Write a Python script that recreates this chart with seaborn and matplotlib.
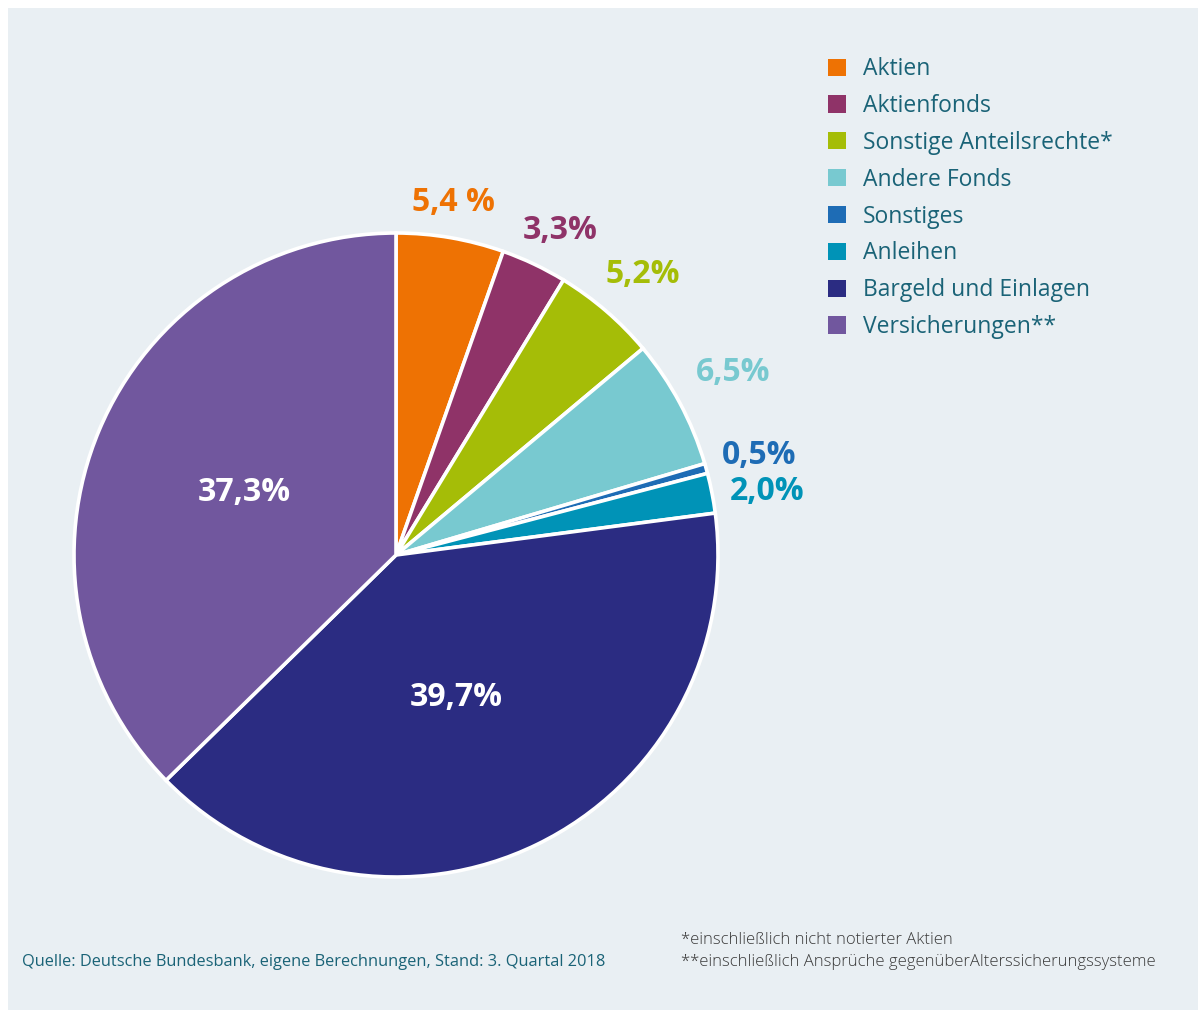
import matplotlib
matplotlib.use("Agg")
import matplotlib.pyplot as plt
import matplotlib.patches as mpatches
import seaborn as sns
import numpy as np

# data
categories = ["Aktien", "Aktienfonds", "Sonstige Anteilsrechte*", "Andere Fonds",
              "Sonstiges", "Anleihen", "Bargeld und Einlagen", "Versicherungen**"]
shares = [5.4, 3.3, 5.2, 6.5, 0.5, 2.0, 39.7, 37.3]
share_labels = ["5,4 %", "3,3%", "5,2%", "6,5%", "0,5%", "2,0%", "39,7%", "37,3%"]
colors = ["#ee7203", "#8f3368", "#a5bd07", "#78c9d0",
          "#1e6cb5", "#0093b7", "#2b2c82", "#71579e"]

source = "Quelle: Deutsche Bundesbank, eigene Berechnungen, Stand: 3. Quartal 2018"
notes = "*einschließlich nicht notierter Aktien\n**einschließlich Ansprüche gegenüberAlterssicherungssysteme"

sns.set_theme(style="white")
plt.rcParams['font.family'] = ['Open Sans', 'DejaVu Sans']

teal = "#1a6377"
W, H = 1203, 1010
fig = plt.figure(figsize=(W / 100, H / 100), dpi=100)
fig.patch.set_facecolor("white")

# light panel behind everything
fig.patches.append(mpatches.Rectangle((8 / W, 0), (1198 - 8) / W, (H - 8) / H,
                                      transform=fig.transFigure, facecolor="#e9eff3",
                                      edgecolor="none", zorder=-10))

# pie axes: centre (396, 555) px, radius 322 px
cx, cy, r = 396, 555, 322
ax = fig.add_axes([(cx - r) / W, (H - cy - r) / H, 2 * r / W, 2 * r / H])
ax.set_facecolor("none")
ax.set_zorder(2)

wedges, _ = ax.pie(shares, colors=colors, startangle=90, counterclock=False,
                   wedgeprops=dict(edgecolor="white", linewidth=2.6))
ax.set_xlim(-1, 1)
ax.set_ylim(-1, 1)
ax.set_aspect("auto")
ax.axis("off")

# label distance from the centre (in radii) and angle nudges
label_dist = [1.11, 1.13, 1.16, 1.19, 1.17, 1.17, 0.48, 0.51]
angle_shift = [0.5, -1.5, -0.7, 0.3, -0.3, -1.4, -3.0, 0.5]
for w, lab, d, s, c in zip(wedges, share_labels, label_dist, angle_shift, colors):
    theta = np.deg2rad((w.theta1 + w.theta2) / 2 + s)
    col = "white" if d < 1 else c
    ax.text(d * np.cos(theta), d * np.sin(theta), lab, ha="center", va="center",
            fontsize=23, fontweight="bold", color=col, clip_on=False)

# legend
handles = [mpatches.Patch(facecolor=c, edgecolor="none") for c in colors]
leg = fig.legend(handles, categories, loc="upper left",
                 bbox_to_anchor=(819 / W, 1 - 48 / H), frameon=False,
                 fontsize=16.5, handlelength=0.78, handleheight=0.78,
                 handletextpad=0.75, labelspacing=0.56, borderaxespad=0)
for t in leg.get_texts():
    t.set_color(teal)

fig.text(22 / W, 1 - 962 / H, source, fontsize=11.8, color=teal, va="center", ha="left")
fig.text(681 / W, 1 - 951 / H, notes, fontsize=12, color="#3a3a3a", va="center",
         ha="left", linespacing=1.45, fontweight="light")

fig.savefig("out.png", dpi=100)
